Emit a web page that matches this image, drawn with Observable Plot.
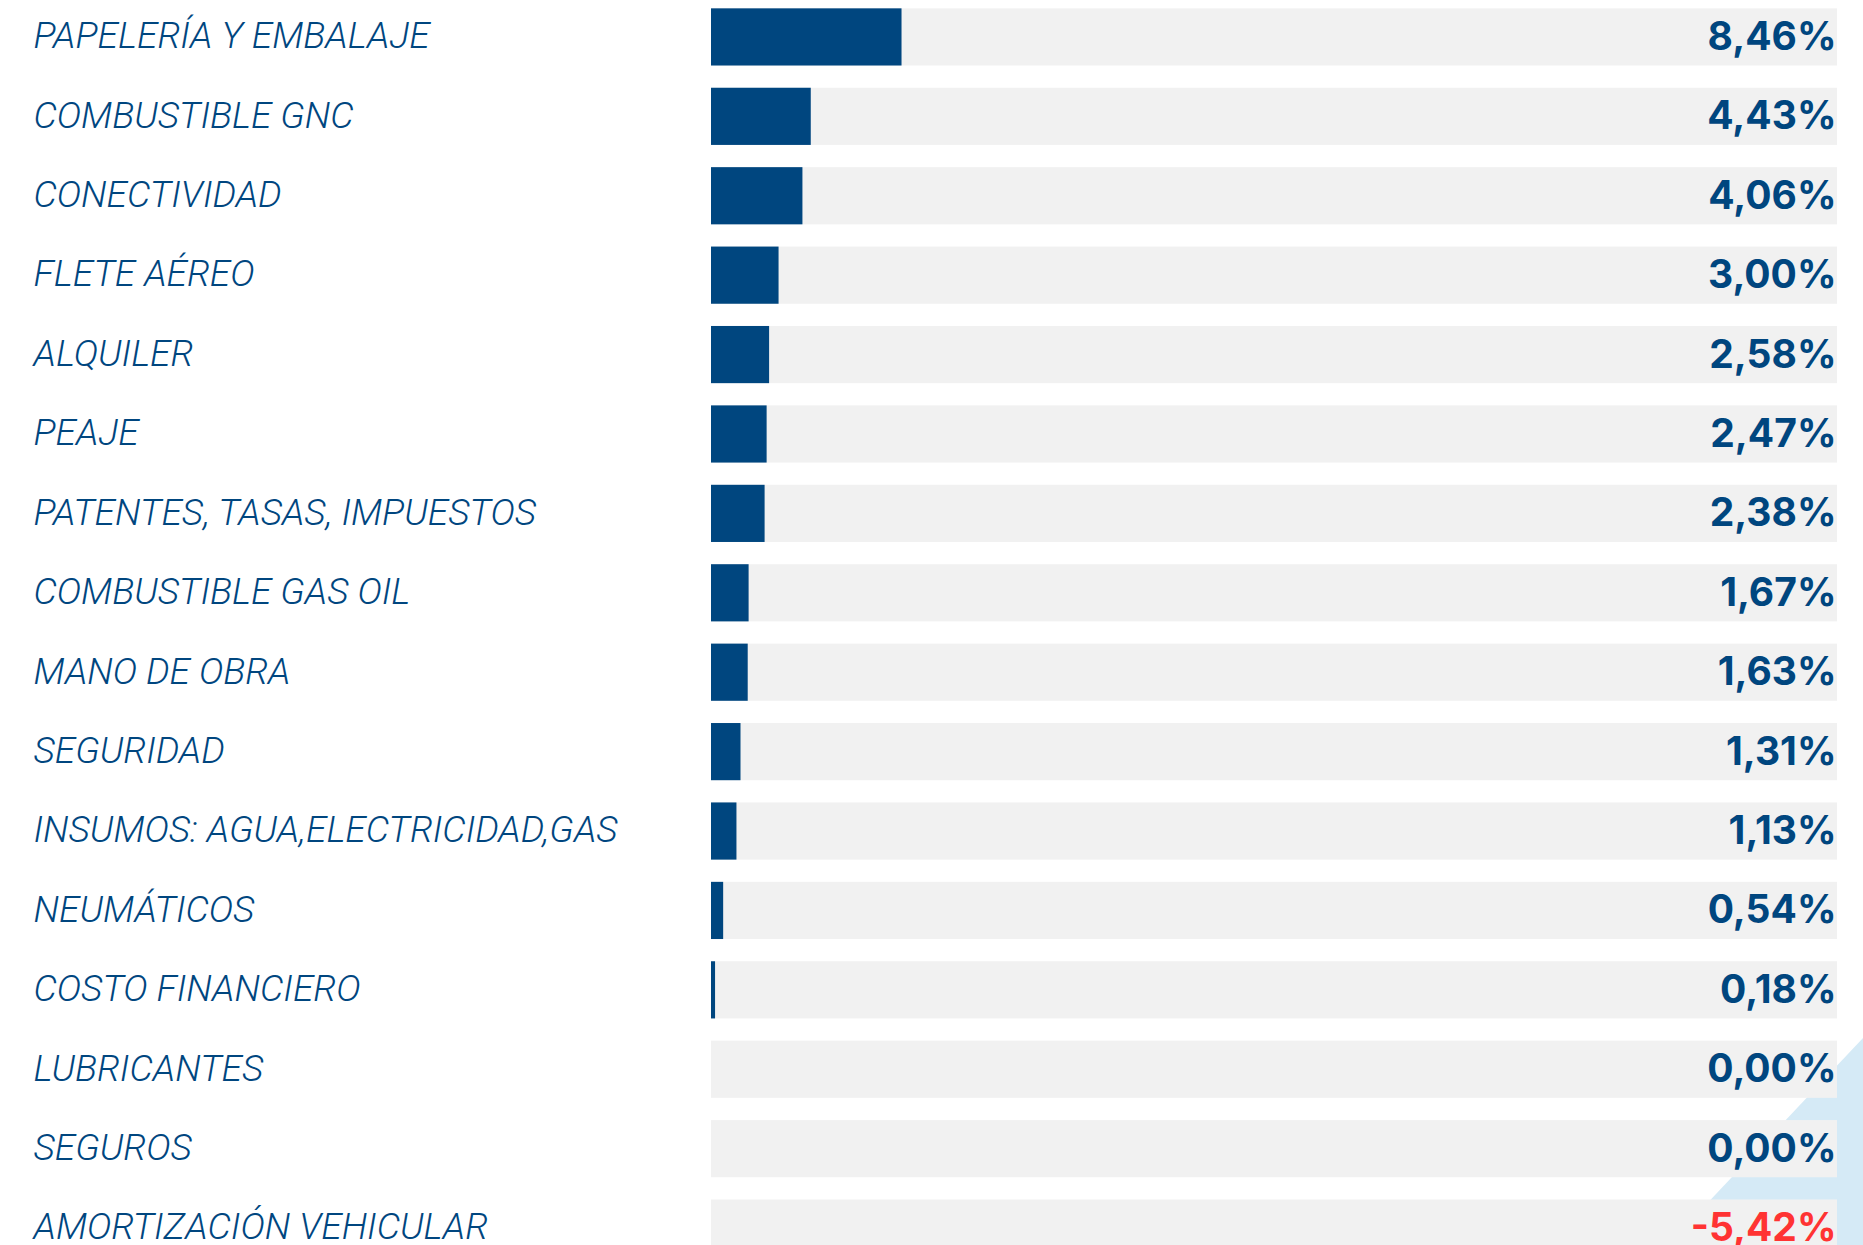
<!DOCTYPE html>
<html>
<head>
<meta charset="utf-8">
<script src="https://cdn.jsdelivr.net/npm/d3@7"></script>
<script src="https://cdn.jsdelivr.net/npm/@observablehq/plot@0.6"></script>
<style>
  html, body { margin: 0; padding: 0; background: #ffffff; width: 1863px; height: 1245px; overflow: hidden; }
  #wrap { position: relative; width: 1863px; height: 1245px; }
  #deco { position: absolute; left: 0; top: 0; width: 1863px; height: 1245px; background: #d5eaf6;
          clip-path: polygon(1863px 1038px, 1668px 1245px, 1863px 1245px); }
  #chart { position: absolute; left: 0; top: 0; }
  #chart svg { background: transparent; }
</style>
</head>
<body>
<div id="wrap">
  <div id="deco"></div>
  <div id="chart"></div>
</div>
<script>
const categories = [
  "PAPELERÍA Y EMBALAJE",
  "COMBUSTIBLE GNC",
  "CONECTIVIDAD",
  "FLETE AÉREO",
  "ALQUILER",
  "PEAJE",
  "PATENTES, TASAS, IMPUESTOS",
  "COMBUSTIBLE GAS OIL",
  "MANO DE OBRA",
  "SEGURIDAD",
  "INSUMOS: AGUA,ELECTRICIDAD,GAS",
  "NEUMÁTICOS",
  "COSTO FINANCIERO",
  "LUBRICANTES",
  "SEGUROS",
  "AMORTIZACIÓN VEHICULAR"
];
const values = [8.46, 4.43, 4.06, 3.00, 2.58, 2.47, 2.38, 1.67, 1.63, 1.31, 1.13, 0.54, 0.18, 0.00, 0.00, -5.42];
const scaleMax = 50;

const data = categories.map((name, i) => ({name, value: values[i]}));
const fmt = v => v.toFixed(2).replace(".", ",") + "%";
const blue = "#00467f";
const red = "#ff3333";

const chart = Plot.plot({
  width: 1863,
  height: 1265,
  marginLeft: 711,
  marginRight: 26,
  marginTop: 0,
  marginBottom: 0,
  style: {background: "transparent"},
  x: {domain: [0, scaleMax], axis: null},
  y: {domain: categories, axis: null, paddingInner: 0.28, paddingOuter: 0.105, round: false},
  marks: [
    Plot.barX(data, {y: "name", x1: 0, x2: scaleMax, fill: "#f1f1f1"}),
    Plot.barX(data, {y: "name", x1: 0, x2: d => Math.max(0, d.value), fill: blue}),
    Plot.text(data, {
      y: "name", text: "name", frameAnchor: "left", textAnchor: "start", dx: -678, dy: -1,
      fill: blue, fontSize: 37, fontStyle: "italic", fontWeight: 300, fontFamily: "Roboto"
    }),
    Plot.text(data, {
      y: "name", text: d => fmt(d.value), frameAnchor: "right", textAnchor: "end", dx: -1,
      fill: d => d.value < 0 ? red : blue, fontSize: 39, fontWeight: 700, fontFamily: "Inter"
    })
  ]
});
document.getElementById("chart").appendChild(chart);
</script>
</body>
</html>
